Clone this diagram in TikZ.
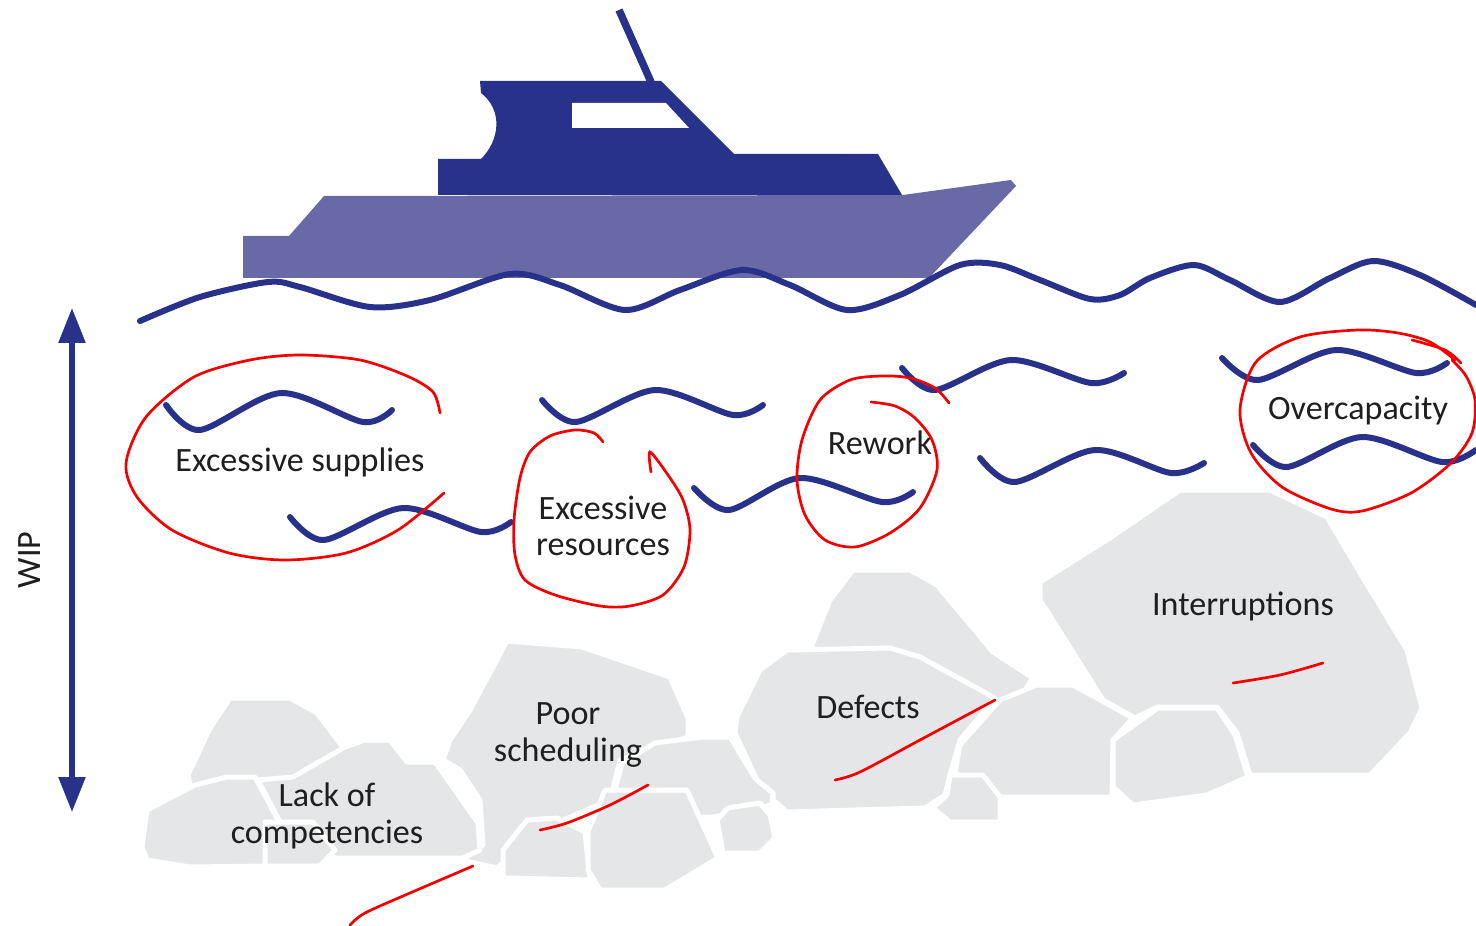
\documentclass[tikz,border=0pt]{standalone}
\usepackage{fontspec}
\setmainfont{Carlito}
\usetikzlibrary{arrows.meta}
\definecolor{navy}{RGB}{40, 50, 138}
\definecolor{hullblue}{RGB}{106, 105, 168}
\definecolor{rockgrey}{RGB}{229, 230, 232}
\definecolor{pen}{RGB}{245, 0, 0}

\tikzset{
  wave/.style={navy, line width=0.6mm, line cap=round},
  rock/.style={fill=rockgrey, draw=white, line width=0.5mm, line join=round},
  scribble/.style={pen, line width=0.27mm, line cap=round},
  lbl/.style={font=\fontsize{9.7}{10.4}\selectfont, text=black!88, align=center, inner sep=0pt},
}

\begin{document}
\begin{tikzpicture}[x=0.1mm, y=-0.1mm]
\useasboundingbox (0,0) rectangle (1476,926);

% rocks, back to front
\filldraw[rock] (190,785) -- (188,775) -- (210,728) -- (230,698) -- (290,698) -- (317,713) -- (345,750) -- (345,800) -- (200,800) -- cycle;
\filldraw[rock] (147,810) -- (195,785) -- (227,777) -- (255,777) -- (278,820) -- (270,866) -- (190,867) -- (147,860) -- (142,847) -- cycle;
\filldraw[rock] (507,641) -- (582,647) -- (670,677) -- (688,718) -- (688,737) -- (620,760) -- (610,800) -- (540,830) -- (497,868) -- (470,862) -- (460,857) -- (483,845) -- (480,800) -- (460,770) -- (443,760) -- (450,740) -- (470,710) -- cycle;
\filldraw[rock] (258,780) -- (293,777) -- (345,747) -- (365,740) -- (390,740) -- (407,762) -- (435,762) -- (478,823) -- (480,850) -- (463,858) -- (335,858) -- (280,822) -- cycle;
\filldraw[rock] (265,822) -- (313,822) -- (335,850) -- (320,866) -- (265,866) -- cycle;
\filldraw[rock] (615,790) -- (622,763) -- (655,743) -- (703,737) -- (730,737) -- (755,778) -- (773,793) -- (772,805) -- (713,817) -- (610,817) -- cycle;
\filldraw[rock] (503,878) -- (503,850) -- (527,820) -- (557,818) -- (585,832) -- (590,880) -- cycle;
\filldraw[rock] (588,832) -- (605,790) -- (687,790) -- (718,858) -- (665,890) -- (600,890) -- (588,870) -- cycle;
\filldraw[rock] (717,820) -- (728,808) -- (760,803) -- (770,815) -- (775,838) -- (760,853) -- (723,853) -- cycle;
\filldraw[rock] (812,645) -- (830,600) -- (853,570) -- (910,570) -- (937,585) -- (993,652) -- (1033,678) -- (1017,702) -- (990,700) -- (812,700) -- cycle;
\filldraw[rock] (760,670) -- (787,650) -- (890,648) -- (920,657) -- (995,698) -- (960,740) -- (950,775) -- (945,795) -- (925,808) -- (787,812) -- (773,800) -- (773,793) -- (757,780) -- (735,733) -- (737,717) -- cycle;
\filldraw[rock] (960,745) -- (1000,700) -- (1037,685) -- (1073,685) -- (1133,718) -- (1113,740) -- (1112,797) -- (1000,797) -- (955,773) -- cycle;
\filldraw[rock] (950,775) -- (983,775) -- (1000,797) -- (1000,822) -- (950,822) -- (933,808) -- (947,795) -- cycle;
\filldraw[rock] (1040,600) -- (1040,582) -- (1110,538) -- (1180,490) -- (1270,490) -- (1327,517) -- (1360,573) -- (1407,650) -- (1422,708) -- (1410,733) -- (1370,775) -- (1250,775) -- (1237,733) -- (1217,707) -- (1158,707) -- (1135,718) -- (1103,700) -- cycle;
\filldraw[rock] (1113,740) -- (1158,708) -- (1217,708) -- (1235,735) -- (1248,777) -- (1207,795) -- (1133,805) -- (1113,787) -- cycle;

% boat
\fill[hullblue] (243,236) -- (289,236) -- (324,196) -- (903,195) -- (1011,180) -- (1016,186) -- (929,278) -- (243,278) -- cycle;
\fill[navy] (480,81) -- (661,81) -- (734,154) -- (878,154) -- (902,195) -- (438,195) -- (438,159) -- (481,159)
     .. controls (500,140) and (503,110) .. (481,93) -- cycle;
\fill[white] (572,103) -- (666,103) -- (689,128) -- (572,128) -- cycle;
\draw[navy, line width=0.75mm] (619,10) -- (651,82);

% sea surface
\draw[wave] plot[smooth] coordinates {(140,321) (200,297) (268,282) (300,287) (370,307) (430,300) (510,274) (560,285) (625,310) (680,290) (742,270) (790,285) (847,310) (900,295) (960,265) (1000,265) (1040,280) (1090,299) (1120,295) (1150,278) (1194,265) (1230,280) (1280,302) (1330,278) (1373,261) (1420,275) (1476,305)};

% waves below the surface
\draw[wave] plot[smooth] coordinates {(166,405) (200,430) (281,393) (363,422) (392,410)};
\draw[wave] plot[smooth] coordinates {(290,517) (324,540) (403,508) (481,532) (511,522)};
\draw[wave] plot[smooth] coordinates {(542,400) (576,422) (655,390) (733,415) (763,405)};
\draw[wave] plot[smooth] coordinates {(694,488) (729,510) (800,478) (882,502) (913,492)};
\draw[wave] plot[smooth] coordinates {(902,368) (935,390) (1011,360) (1091,383) (1124,373)};
\draw[wave] plot[smooth] coordinates {(980,458) (1015,482) (1095,450) (1171,473) (1204,463)};
\draw[wave] plot[smooth] coordinates {(1222,358) (1258,380) (1336,350) (1416,373) (1447,363)};
\draw[wave] plot[smooth] coordinates {(1253,445) (1287,467) (1362,437) (1442,462) (1476,450)};

% WIP scale
\coordinate (wiptop) at (72,308);
\coordinate (wipbot) at (72,812);
\draw[navy, line width=0.55mm, {Triangle[length=3.5mm,width=2.6mm]}-{Triangle[length=3.5mm,width=2.6mm]}] (wiptop) -- (wipbot);
\node[lbl, rotate=90] (wip) at (30,560) {WIP};

% labels
\node[lbl] (supplies)      at (300,462) {Excessive supplies};
\node[lbl] (resources)     at (603,526) {Excessive\\resources};
\node[lbl] (rework)        at (880,443) {Rework};
\node[lbl] (overcapacity)  at (1358,411) {Overcapacity};
\node[lbl] (interruptions) at (1243,606) {Interruptions};
\node[lbl] (defects)       at (868,707) {Defects};
\node[lbl] (scheduling)    at (568,735) {Poor\\scheduling};
\node[lbl] (competencies)  at (327,816) {Lack of\\competencies};

% pen marks
\draw[scribble] plot[smooth] coordinates {(440,413) (433,392) (407,376) (360,360) (300,355) (250,360) (194,377) (146,417) (126,463) (137,497) (172,530) (229,553) (285,560) (346,553) (398,530) (444,493)};
\draw[scribble] plot[smooth] coordinates {(603,442) (594,433) (575,430) (550,436) (530,452) (520,478) (514,520) (515,555) (525,580) (555,595) (600,606) (630,606) (663,595) (684,567) (690,530) (683,500) (668,475) (650,452) (651,472)};
\draw[scribble] plot[smooth] coordinates {(949,403) (935,388) (910,378) (882,376) (850,380) (820,400) (802,440) (797,480) (805,515) (825,540) (855,547) (890,533) (920,508) (937,470) (932,440) (915,418) (895,406) (871,402)};
\draw[scribble] plot[smooth] coordinates {(1455,360) (1430,342) (1398,333) (1358,330) (1300,337) (1256,362) (1240,410) (1251,453) (1282,487) (1331,509) (1362,511) (1411,493) (1451,463) (1472,433) (1475,400) (1466,376) (1452,360)};
\draw[scribble] plot[smooth] coordinates {(1412,340) (1445,350) (1461,363)};
\draw[scribble] plot[smooth] coordinates {(1233,683) (1280,675) (1323,663)};
\draw[scribble] plot[smooth] coordinates {(835,780) (860,772) (920,740) (995,700)};
\draw[scribble] plot[smooth] coordinates {(540,830) (567,823) (610,805) (648,785)};
\draw[scribble] plot[smooth] coordinates {(350,925) (365,913) (410,893) (473,866)};
\end{tikzpicture}
\end{document}
